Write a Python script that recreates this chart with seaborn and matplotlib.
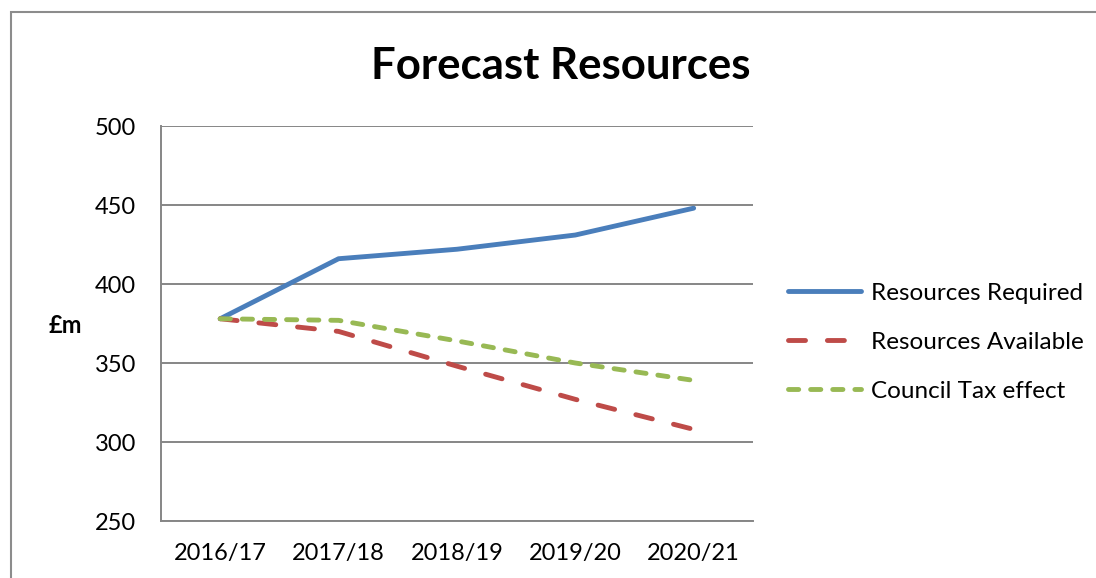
"""
Forecast Resources line chart
"""
import pandas as pd
import matplotlib
matplotlib.use("Agg")
import matplotlib.pyplot as plt
import seaborn as sb
from matplotlib.patches import Rectangle

# chart data
years = ["2016/17", "2017/18", "2018/19", "2019/20", "2020/21"]
required = [378, 416, 422, 431, 448]
available = [378, 370, 348, 327, 308]
council_tax = [378, 377, 364, 350, 339]
series_names = ["Resources Required", "Resources Available", "Council Tax effect"]
y_ticks = [250, 300, 350, 400, 450, 500]

# build long-form table for seaborn
df = pd.DataFrame({
    "year": years * 3,
    "pos": list(range(len(years))) * 3,
    "value": required + available + council_tax,
    "series": [series_names[0]] * 5 + [series_names[1]] * 5 + [series_names[2]] * 5,
})

sb.set_style("white")
plt.rcParams["font.family"] = ["Lato", "DejaVu Sans"]
plt.rcParams["text.color"] = "black"
plt.rcParams["xtick.color"] = "black"
plt.rcParams["ytick.color"] = "black"
plt.rcParams["lines.dash_capstyle"] = "round"
plt.rcParams["lines.solid_capstyle"] = "round"

colors = {series_names[0]: "#4A7EBB",
          series_names[1]: "#BE4B48",
          series_names[2]: "#98B954"}
dashes = {series_names[0]: "",
          series_names[1]: (3.5, 4.5),
          series_names[2]: (2.1, 2.45)}
lw = 3.5

fig = plt.figure(figsize=(10.96, 5.78), dpi=100)
ax = fig.add_axes([0.1469, 0.0986, 0.540, 0.6834])

sb.lineplot(data=df, x="pos", y="value", hue="series", style="series",
            palette=colors, dashes=dashes, linewidth=lw, ax=ax, legend=True)

# axes styling
grid_col = "#868686"
ax.set_xlim(-0.5, 4.5)
ax.set_ylim(250, 500)
ax.set_yticks(y_ticks)
ax.set_yticklabels([str(v) for v in y_ticks], fontsize=17)
ax.set_xticks(range(len(years)))
ax.set_xticklabels(years, fontsize=17)
ax.set_xticks([i - 0.5 for i in range(len(years) + 1)], minor=True)
ax.tick_params(axis="x", which="major", length=0, pad=16)
ax.tick_params(axis="x", which="minor", length=6, width=1.4, color=grid_col,
               direction="out")
ax.tick_params(axis="y", length=6, width=1.4, color=grid_col, labelcolor="black",
               direction="out", pad=12)
ax.yaxis.grid(True, color=grid_col, linewidth=1.4)
ax.set_axisbelow(True)
for side in ["top", "right"]:
    ax.spines[side].set_visible(False)
for side in ["left", "bottom"]:
    ax.spines[side].set_color(grid_col)
    ax.spines[side].set_linewidth(1.4)
ax.set_xlabel("")
ax.set_ylabel("")

# title and y label
fig.text(0.512, 0.886, "Forecast Resources", fontsize=31.5, fontweight="bold",
         ha="center", va="center")
fig.text(0.060, 0.436, "£m", fontsize=17, fontweight="bold", ha="center", va="center")

# legend outside to the right
handles, labels = ax.get_legend_handles_labels()
leg = ax.legend(handles, labels, loc="center left", bbox_to_anchor=(0.699, 0.408),
                bbox_transform=fig.transFigure, frameon=False, fontsize=17.5,
                handlelength=3.0, handletextpad=0.4, labelspacing=1.15)
for line in leg.get_lines():
    line.set_linewidth(lw)

# chart area border
fig.patches.append(Rectangle((11 / 1096, -0.1), 1.2, 1.1 - 12 / 578,
                             transform=fig.transFigure, fill=False,
                             edgecolor="#8c8c8c", linewidth=1.5))

fig.savefig("out.png", dpi=100)
